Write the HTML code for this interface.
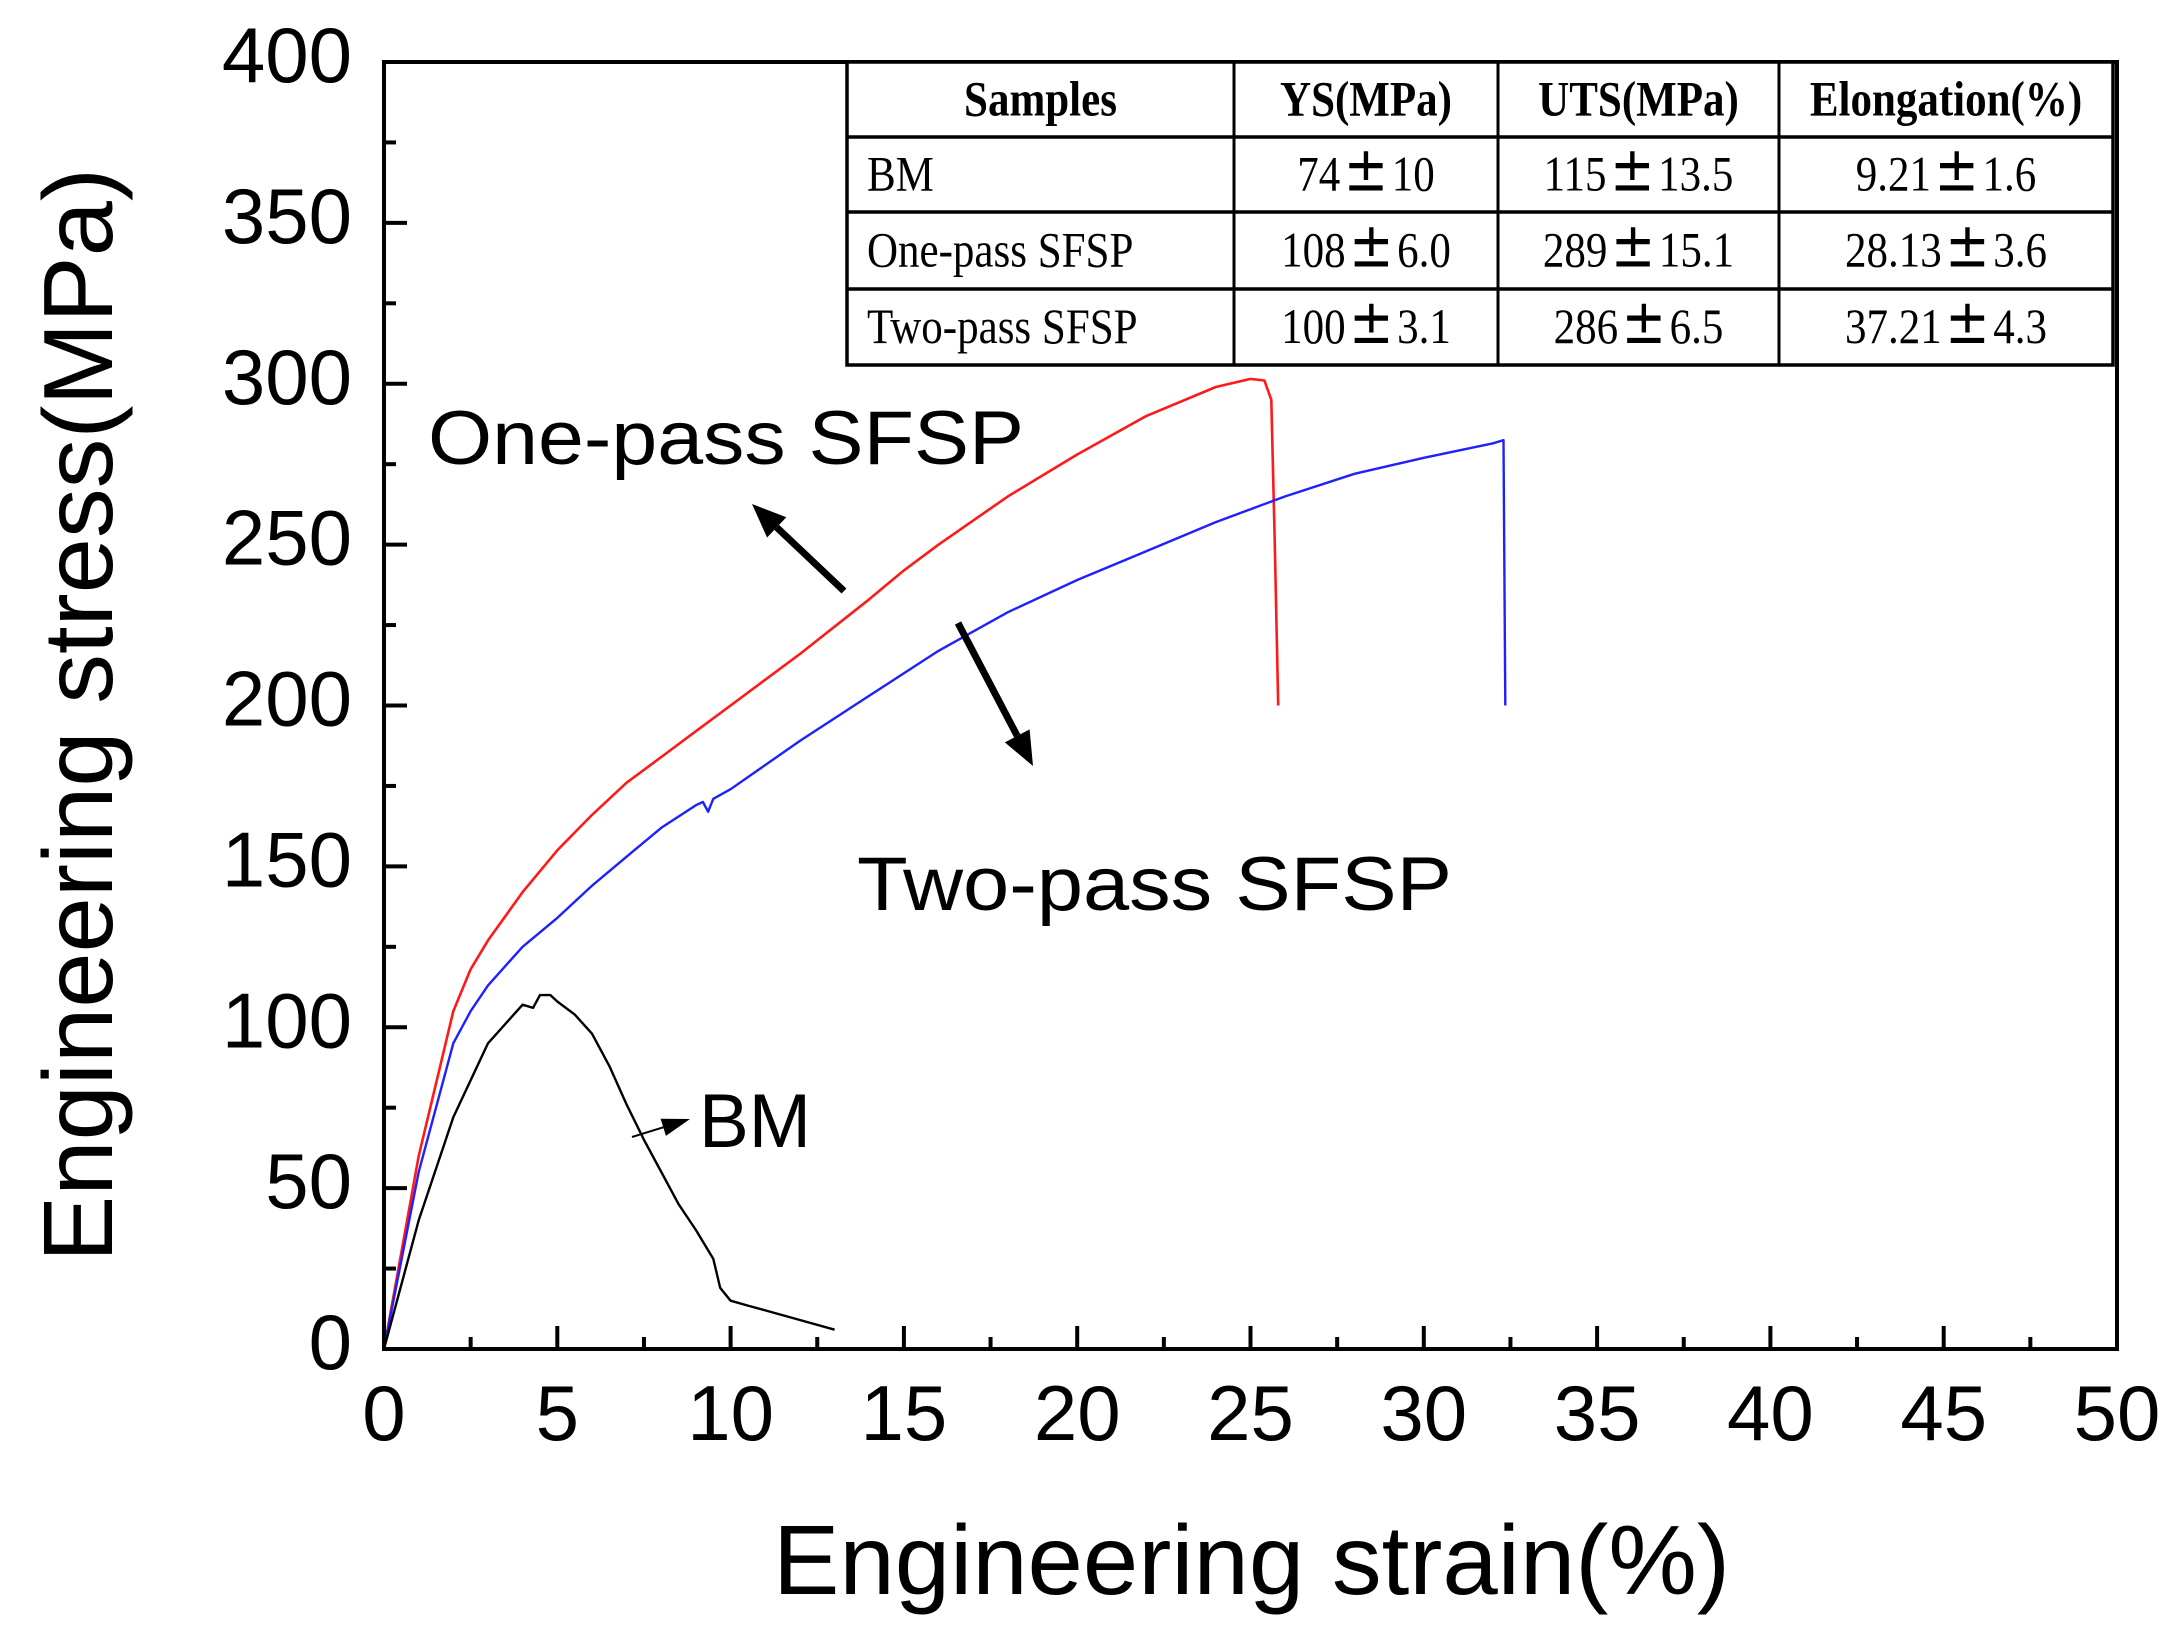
<!DOCTYPE html>
<html><head><meta charset="utf-8"><style>
html,body{margin:0;padding:0;background:#fff;}
svg{display:block;}
</style></head><body>
<svg id="chart" xmlns="http://www.w3.org/2000/svg" width="2180" height="1642" viewBox="0 0 2180 1642">
<rect x="0" y="0" width="2180" height="1642" fill="#fff"/>
<g id="marks"></g>
<g id="axes"></g>
<g id="table"></g>
<g id="notes"></g>
</svg>
<script>
const xTicks = [0,5,10,15,20,25,30,35,40,45,50];
const yTicks = [0,50,100,150,200,250,300,350,400];
const oneStrain = [0,1,2,2.5,3,4,5,6,7,8,9,10,12,14,15,16,18,20,22,24,25,25.4,25.6,25.7,25.8];
const oneStress = [0,60,105,118,127,142,155,166,176,184,192,200,216,233,242,250,265,278,290,299,301.5,301,295,250,200];
const twoStrain = [0,1,2,2.5,3,4,5,6,7,8,9,9.2,9.35,9.5,10,12,14,15,16,18,20,22,24,25,26,28,30,32,32.3,32.35];
const twoStress = [0,55,95,105,113,125,134,144,153,162,169,170,167,171,174,189,203,210,217,229,239,248,257,261,265,272,277,281.5,282.5,200];
const bmStrain = [0,1,2,3,4,4.3,4.5,4.8,5,5.5,6,6.5,7,7.5,8,8.5,9,9.5,9.7,10,10.5,11,12,13];
const bmStress = [0,40,72,95,107,106,110,110,108,104,98,88,76,65,55,45,37,28,19,15,13.5,12,9,6];
const tableHeader = ["Samples","YS(MPa)","UTS(MPa)","Elongation(%)"];
const tableRows = [["BM","74±10","115±13.5","9.21±1.6"],["One-pass SFSP","108±6.0","289±15.1","28.13±3.6"],["Two-pass SFSP","100±3.1","286±6.5","37.21±4.3"]];

const NS="http://www.w3.org/2000/svg";
const X0=384,X1=2117,Y0=1349,Y1=62;
const sx=v=>X0+(v-0)/(50-0)*(X1-X0);
const sy=v=>Y0-(v-0)/(400-0)*(Y0-Y1);
function mk(tag,attrs,parent){const e=document.createElementNS(NS,tag);for(const k in attrs)e.setAttribute(k,attrs[k]);parent.appendChild(e);return e;}
const marks=document.getElementById('marks'),axes=document.getElementById('axes'),tbl=document.getElementById('table'),notes=document.getElementById('notes');

function series(xs,ys,color,w,name){
  const d=xs.map((x,i)=>(i?'L':'M')+sx(x).toFixed(1)+','+sy(ys[i]).toFixed(1)).join(' ');
  const p=mk('path',{d:d,fill:'none',stroke:color,'stroke-width':w,'stroke-linejoin':'round'},marks);
  
  
}
series(oneStrain,oneStress,'#ff1a1a',2.6,'one-pass-sfsp-curve');
series(twoStrain,twoStress,'#2020ff',2.4,'two-pass-sfsp-curve');
series(bmStrain,bmStress,'#000',2.4,'bm-curve');

const frame=mk('rect',{x:X0,y:Y1,width:X1-X0,height:Y0-Y1,fill:'none',stroke:'#000','stroke-width':4},axes);


xTicks.forEach((t,i)=>{
  const x=sx(t);
  const tk=mk('line',{x1:x,x2:x,y1:Y0,y2:Y0-23,stroke:'#000','stroke-width':4},axes);
  
  
  if(i<xTicks.length-1){const xm=sx(t+2.5);
    const mt=mk('line',{x1:xm,x2:xm,y1:Y0,y2:Y0-12,stroke:'#000','stroke-width':4},axes);
    
    }
  const lb=mk('text',{x:x,y:1440,'text-anchor':'middle','font-family':'Liberation Sans, Arial, sans-serif','font-size':78},axes);
  lb.textContent=t;
  
  
});
yTicks.forEach((t,i)=>{
  const y=sy(t);
  const tk=mk('line',{x1:X0,x2:X0+23,y1:y,y2:y,stroke:'#000','stroke-width':4},axes);
  
  
  if(i<yTicks.length-1){const ym=sy(t+25);
    const mt=mk('line',{x1:X0,x2:X0+12,y1:ym,y2:ym,stroke:'#000','stroke-width':4},axes);
    
    }
  const lb=mk('text',{x:352,y:y+20,'text-anchor':'end','font-family':'Liberation Sans, Arial, sans-serif','font-size':78},axes);
  lb.textContent=t;
  
  
});
const xt=mk('text',{x:773,y:1594,textLength:957,lengthAdjust:'spacingAndGlyphs','font-family':'Liberation Sans, Arial, sans-serif','font-size':98},axes);
xt.textContent='Engineering strain(%)';


const yt=mk('text',{x:0,y:0,transform:'translate(112,1262) rotate(-90)',textLength:1094,lengthAdjust:'spacingAndGlyphs','font-family':'Liberation Sans, Arial, sans-serif','font-size':98},axes);
yt.textContent='Engineering stress(MPa)';



const TL=847,TR=2113,rowsY=[62,137,212,289,365],colsX=[847,1234,1498,1779,2113];
const tb=mk('rect',{x:TL,y:62,width:TR-TL,height:365-62,fill:'#fff',stroke:'#000','stroke-width':3.5},tbl);


rowsY.slice(1,4).forEach(y=>{const l=mk('line',{x1:TL,x2:TR,y1:y,y2:y,stroke:'#000','stroke-width':3.5},tbl);
  
  });
colsX.slice(1,4).forEach(x=>{const l=mk('line',{x1:x,x2:x,y1:62,y2:365,stroke:'#000','stroke-width':3},tbl);
  
  });
function cell(txt,r,c,bold){
  const cy=(rowsY[r]+rowsY[r+1])/2+16;
  const left=(c===0&&r>0);
  const x=left?colsX[0]+20:(colsX[c]+colsX[c+1])/2;
  const t=mk('text',{x:x,y:cy,'text-anchor':left?'start':'middle','font-family':'Liberation Serif, Times New Roman, serif','font-size':50,'font-weight':bold?'bold':'normal',transform:`translate(${x},0) scale(0.86,1) translate(${-x},0)`},tbl);
  if(txt.indexOf('±')>=0){
    const parts=txt.split('±');
    const a=mk('tspan',{},t); a.textContent=parts[0];
    const pm=mk('tspan',{'font-size':62,'font-family':'DejaVu Sans, sans-serif',dx:4},t); pm.textContent='±';
    const b=mk('tspan',{dx:4},t); b.textContent=parts[1];
  } else t.textContent=txt;
  
  
}
tableHeader.forEach((h,c)=>cell(h,0,c,true));
tableRows.forEach((row,r)=>row.forEach((v,c)=>cell(v,r+1,c,false)));

function note(txt,x,y,len,name){
  const t=mk('text',{x:x,y:y,textLength:len,lengthAdjust:'spacingAndGlyphs','font-family':'Liberation Sans, Arial, sans-serif','font-size':76},notes);
  t.textContent=txt;
  
  
}
note('One-pass SFSP',428,464,596,'one-pass-label');
note('Two-pass SFSP',857,910,595,'two-pass-label');
note('BM',699,1147,112,'bm-label');
function arrow(x1,y1,x2,y2,w,hl,hw,name){
  const a=Math.atan2(y2-y1,x2-x1),ux=Math.cos(a),uy=Math.sin(a);
  const bx=x2-ux*hl,by=y2-uy*hl;
  const g=mk('g',{},notes);
  
  
  mk('line',{x1:x1,y1:y1,x2:bx,y2:by,stroke:'#000','stroke-width':w},g);
  mk('polygon',{points:`${x2},${y2} ${bx-uy*hw},${by+ux*hw} ${bx+uy*hw},${by-ux*hw}`,fill:'#000'},g);
}
arrow(844,591,752,504,7,34,14,'one-pass-arrow');
arrow(958,623,1033,766,7,34,14,'two-pass-arrow');
arrow(632,1137,690,1119,2,28,9,'bm-arrow');
</script>
</body></html>
